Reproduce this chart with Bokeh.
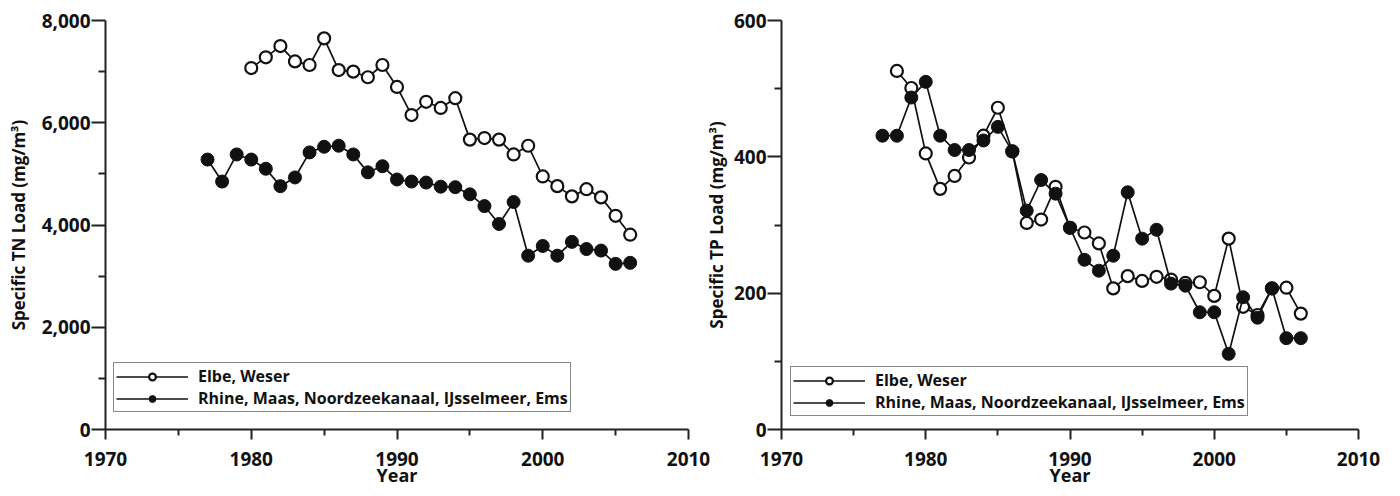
from bokeh.plotting import figure
from bokeh.layouts import row
from bokeh.models import FixedTicker, NumeralTickFormatter, Legend, LegendItem, Range1d
from bokeh.embed import file_html
from bokeh.resources import INLINE

# ---------------- data ----------------
x_ticks = [1970, 1980, 1990, 2000, 2010]
x_minor = [1975, 1985, 1995, 2005]

series_names = ["Elbe, Weser", "Rhine, Maas, Noordzeekanaal, IJsselmeer, Ems"]

# Total nitrogen (mg/m3)
tn_years_elbe = list(range(1980, 2007))
tn_elbe = [7070, 7280, 7500, 7200, 7130, 7650, 7030, 7000, 6890, 7130,
           6700, 6150, 6410, 6290, 6480, 5670, 5700, 5670, 5380, 5550,
           4950, 4760, 4560, 4700, 4540, 4180, 3810]
tn_years_rhine = list(range(1977, 2007))
tn_rhine = [5280, 4850, 5380, 5280, 5100, 4760, 4930, 5420, 5530, 5550,
            5380, 5030, 5150, 4890, 4850, 4830, 4750, 4740, 4600, 4370,
            4020, 4450, 3400, 3590, 3400, 3670, 3530, 3500, 3240, 3260]
tn_y_ticks = [0, 2000, 4000, 6000, 8000]
tn_y_minor = [1000, 3000, 5000, 7000]

# Total phosphorus (mg/m3)
tp_years_elbe = list(range(1978, 2007))
tp_elbe = [526, 501, 405, 353, 372, 399, 431, 472, 408, 303,
           308, 356, 296, 289, 273, 207, 225, 218, 224, 220,
           215, 216, 196, 280, 180, 168, 207, 208, 170]
tp_years_rhine = list(range(1977, 2007))
tp_rhine = [431, 431, 487, 510, 431, 410, 410, 424, 444, 408,
            321, 366, 346, 296, 249, 233, 255, 348, 280, 293,
            214, 211, 172, 172, 111, 194, 164, 207, 134, 134]
tp_y_ticks = [0, 200, 400, 600]
tp_y_minor = [100, 300, 500]

FONT = "Open Sans"
INK = "#111111"


def make_panel(width, height, border_left, border_right, border_bottom,
               y_max, y_ticks, y_minor, y_fmt, y_label,
               yrs_open, vals_open, yrs_fill, vals_fill, legend_loc, label_standoff):
    p = figure(width=width, height=height, output_backend="svg",
               toolbar_location=None,
               x_range=Range1d(1970, 2010), y_range=Range1d(0, y_max),
               min_border_left=border_left, min_border_right=border_right,
               min_border_top=20, min_border_bottom=border_bottom)
    p.outline_line_color = None
    p.grid.visible = False
    p.background_fill_color = None
    p.border_fill_color = None

    l1 = p.line(yrs_open, vals_open, line_color=INK, line_width=1.7)
    s1 = p.scatter(yrs_open, vals_open, size=12, marker="circle",
                   fill_color="white", line_color=INK, line_width=2.2)
    l2 = p.line(yrs_fill, vals_fill, line_color=INK, line_width=1.7)
    s2 = p.scatter(yrs_fill, vals_fill, size=13, marker="circle",
                   fill_color=INK, line_color=INK, line_width=1)

    xa = p.xaxis[0]
    ya = p.yaxis[0]
    xa.ticker = FixedTicker(ticks=x_ticks, minor_ticks=x_minor)
    ya.ticker = FixedTicker(ticks=y_ticks, minor_ticks=y_minor)
    ya.formatter = NumeralTickFormatter(format=y_fmt)
    xa.axis_label = "Year"
    ya.axis_label = y_label
    for ax in (xa, ya):
        ax.axis_line_width = 2
        ax.axis_line_color = "#222222"
        ax.major_tick_line_width = 2
        ax.minor_tick_line_width = 2
        ax.major_tick_line_color = "#222222"
        ax.minor_tick_line_color = "#222222"
        ax.major_tick_in = 0
        ax.minor_tick_in = 0
        ax.major_label_text_font = FONT
        ax.axis_label_text_font = FONT
        ax.major_label_text_color = INK
        ax.axis_label_text_color = INK
        ax.major_label_text_font_style = "bold"
        ax.axis_label_text_font_style = "bold"
    xa.major_tick_out = 10
    xa.minor_tick_out = 6
    ya.major_tick_out = 14
    ya.minor_tick_out = 7
    xa.major_label_text_font_size = "19px"
    ya.major_label_text_font_size = "19px"
    xa.axis_label_text_font_size = "18px"
    ya.axis_label_text_font_size = "17px"
    xa.major_label_standoff = 12
    xa.axis_label_standoff = -6
    ya.major_label_standoff = 1
    ya.axis_label_standoff = label_standoff

    legend = Legend(items=[LegendItem(label=series_names[0], renderers=[l1, s1]),
                           LegendItem(label=series_names[1], renderers=[l2, s2])],
                    location=legend_loc, glyph_width=72, glyph_height=17,
                    label_height=17, label_text_font=FONT,
                    label_text_font_size="16px", label_text_font_style="bold",
                    label_text_color=INK,
                    label_standoff=10, padding=2, spacing=0, margin=0,
                    border_line_color="#111111", border_line_width=1.6,
                    background_fill_color="white", background_fill_alpha=1)
    p.add_layout(legend)
    return p


p1 = make_panel(712, 496, 105, 24, 64, 8000, tn_y_ticks, tn_y_minor, "0,0",
                "Specific TN Load (mg/m³)",
                tn_years_elbe, tn_elbe, tn_years_rhine, tn_rhine, (8, 17), 9)
p2 = make_panel(700, 496, 81, 42, 67, 600, tp_y_ticks, tp_y_minor, "0",
                "Specific TP Load (mg/m³)",
                tp_years_elbe, tp_elbe, tp_years_rhine, tp_rhine, (9, 13), 3)
# let the right panel's transparent border overlap the left panel slightly
p2.margin = (0, 0, 0, -12)

layout = row(p1, p2)
open("out.html", "w").write(file_html(layout, INLINE))
